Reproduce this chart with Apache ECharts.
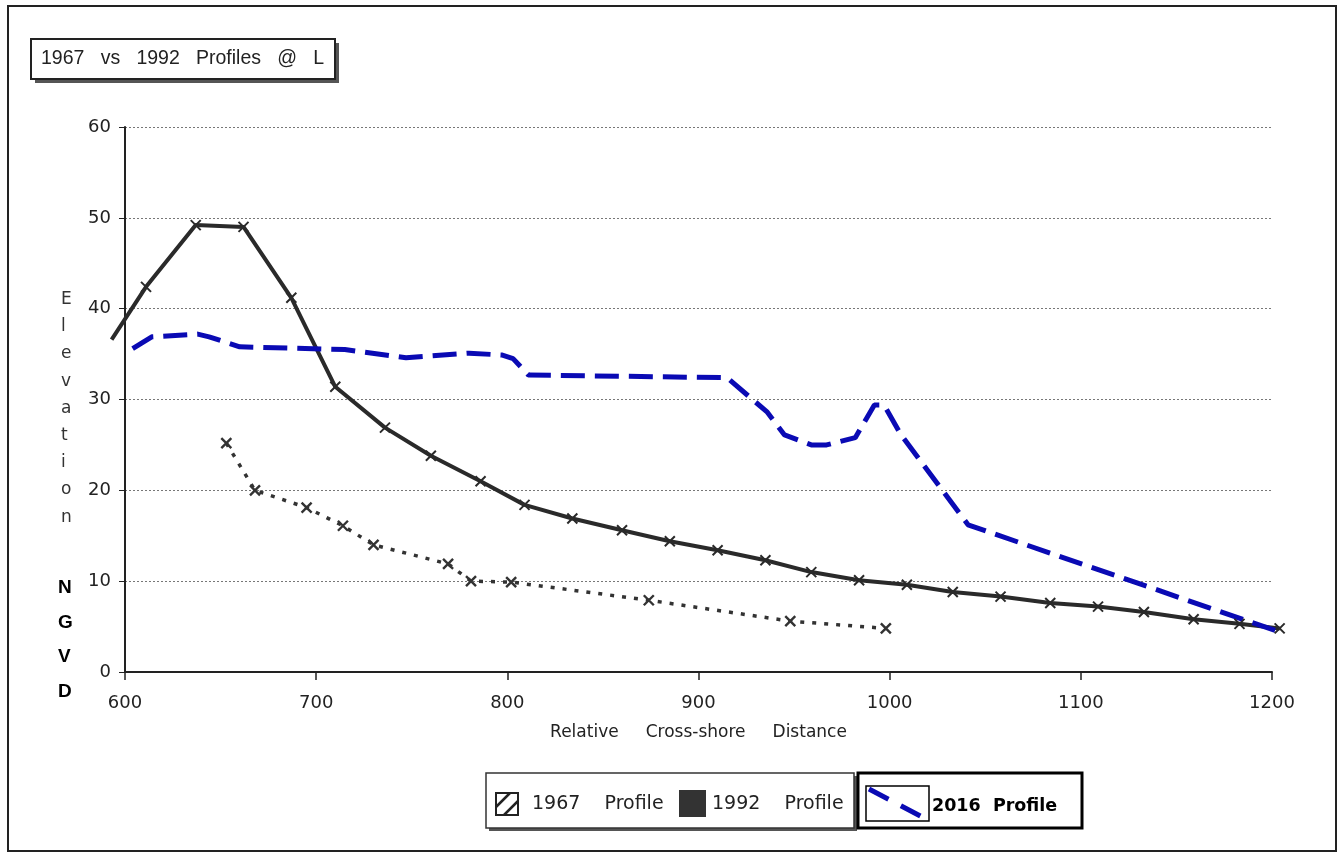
<!DOCTYPE html>
<html>
<head>
<meta charset="utf-8">
<script src="https://cdn.jsdelivr.net/npm/echarts@6/dist/echarts.min.js"></script>
<style>
  html, body { margin: 0; padding: 0; background: #fff; }
  #chart { width: 1340px; height: 854px; }
</style>
</head>
<body>
<div id="chart"></div>
<script>
// profile points: [distance, elevation]
const profile1967 = [
  [653, 25.2], [668, 20.0], [695, 18.1], [714, 16.1], [730, 14.0],
  [769, 11.9], [781, 10.0], [802, 9.9], [874, 7.9], [948, 5.6], [998, 4.8]
];
const profile1992 = [
  [593, 36.6], [611, 42.4], [637, 49.2], [662, 49.0], [687, 41.2],
  [710, 31.4], [736, 26.9], [760, 23.8], [786, 21.0], [809, 18.4],
  [834, 16.9], [860, 15.6], [885, 14.4], [910, 13.4], [935, 12.3],
  [959, 11.0], [984, 10.1], [1009, 9.6], [1033, 8.8], [1058, 8.3],
  [1084, 7.6], [1109, 7.2], [1133, 6.6], [1159, 5.8], [1183, 5.3], [1204, 4.8]
];
const profile2016 = [
  [604, 35.6], [614, 36.9], [638, 37.2], [644, 36.9], [660, 35.8],
  [715, 35.5], [747, 34.6], [780, 35.1], [797, 34.9], [803, 34.5],
  [811, 32.7], [915, 32.4], [936, 28.6], [945, 26.1], [959, 25.0],
  [967, 25.0], [982, 25.8], [992, 29.4], [997, 29.4], [1006, 26.1],
  [1041, 16.2], [1204, 4.4]
];
const yLetters = ['E', 'l', 'e', 'v', 'a', 't', 'i', 'o', 'n'];
const yUnits = ['N', 'G', 'V', 'D'];

const chart = echarts.init(document.getElementById('chart'));
const crossMark = 'path://M0,0L10,10M10,0L0,10';
const FONT = 'DejaVu Sans, Liberation Sans, Arial';
const axisFont = { fontFamily: FONT, fontSize: 18, color: '#222' };

// visible axes: 600..1200 over x 125..1272
// the lines sit in a second, hidden grid with the same scale but a wider range,
// so the 1992 line can run past the y axis like in the scan
const PX = (1340 - 125 - 68) / 600;
const X2MIN = 580, X2MAX = 1210;

const option = {
  backgroundColor: '#fff',
  animation: false,
  grid: [
    { left: 125, right: 68, top: 127, bottom: 182 },
    { left: 125 - (600 - X2MIN) * PX, right: 68 - (X2MAX - 1200) * PX, top: 127, bottom: 182 }
  ],
  xAxis: [
    {
      type: 'value', gridIndex: 0, min: 600, max: 1200, interval: 100,
      name: 'Relative     Cross-shore     Distance',
      nameLocation: 'middle', nameGap: 52,
      nameTextStyle: { fontFamily: FONT, fontSize: 17, color: '#222' },
      axisLine: { lineStyle: { color: '#222', width: 2 } },
      axisTick: { show: true, length: 8, lineStyle: { color: '#222', width: 1.5 } },
      axisLabel: Object.assign({ margin: 22, formatter: (v) => String(v) }, axisFont),
      splitLine: { show: false }
    },
    { type: 'value', gridIndex: 1, min: X2MIN, max: X2MAX, show: false }
  ],
  yAxis: [
    {
      type: 'value', gridIndex: 0, min: 0, max: 60, interval: 10,
      axisLine: { show: true, lineStyle: { color: '#222', width: 2 } },
      axisTick: { show: true, length: 6, lineStyle: { color: '#222' } },
      axisLabel: Object.assign({ margin: 14 }, axisFont),
      splitLine: { lineStyle: { color: '#777', type: [2, 2], width: 1 } }
    },
    { type: 'value', gridIndex: 1, min: 0, max: 60, show: false }
  ],
  series: [
    {
      name: '1967 Profile', type: 'line', data: profile1967,
      xAxisIndex: 1, yAxisIndex: 1,
      symbol: crossMark, symbolSize: 10,
      lineStyle: { color: '#333', width: 3.5, type: [4, 8] },
      itemStyle: { color: '#333', borderColor: '#333', borderWidth: 2.4 }
    },
    {
      name: '1992 Profile', type: 'line',
      data: profile1992.map((p, i) => (i === 0 ? { value: p, symbol: 'none' } : p)),
      xAxisIndex: 1, yAxisIndex: 1,
      symbol: crossMark, symbolSize: 10,
      lineStyle: { color: '#2a2a2a', width: 4 },
      itemStyle: { color: '#2a2a2a', borderColor: '#2a2a2a', borderWidth: 2 }
    },
    {
      name: '2016 Profile', type: 'line', data: profile2016,
      xAxisIndex: 1, yAxisIndex: 1,
      symbol: 'none',
      lineStyle: { color: '#0a0ab4', width: 5, type: [24, 10] }
    }
  ],
  graphic: [
    // outer frame
    { type: 'rect', shape: { x: 8, y: 6, width: 1328, height: 845 },
      style: { fill: 'none', stroke: '#222', lineWidth: 2 } },
    // title box
    { type: 'rect', shape: { x: 35, y: 43, width: 304, height: 40 },
      style: { fill: '#555' } },
    { type: 'rect', shape: { x: 31, y: 39, width: 304, height: 40 },
      style: { fill: '#fff', stroke: '#222', lineWidth: 2 } },
    { type: 'text', left: 41, top: 49,
      style: { text: '1967   vs   1992   Profiles   @   L', fontFamily: 'Liberation Sans, Arial',
        fontSize: 19.5, fill: '#222' } },
    // y axis name
    { type: 'text', left: 61, top: 286,
      style: { text: yLetters.join('\n'), fontFamily: FONT, fontSize: 17,
        lineHeight: 27.2, fill: '#333', align: 'center', width: 14 } },
    { type: 'text', left: 58, top: 571,
      style: { text: yUnits.join('\n'), fontFamily: 'Liberation Sans, Arial', fontSize: 19,
        fontWeight: 'bold', lineHeight: 34.5, fill: '#000', align: 'center', width: 16 } },
    // legend box for 1967 / 1992
    { type: 'rect', shape: { x: 489, y: 776, width: 368, height: 55 },
      style: { fill: '#555' } },
    { type: 'rect', shape: { x: 486, y: 773, width: 368, height: 55 },
      style: { fill: '#fff', stroke: '#333', lineWidth: 1.5 } },
    { type: 'rect', shape: { x: 496, y: 793, width: 22, height: 22 },
      style: { fill: '#fff', stroke: '#222', lineWidth: 2 } },
    { type: 'polyline', shape: { points: [[496, 807], [510, 793]] },
      style: { stroke: '#222', lineWidth: 2.5 } },
    { type: 'polyline', shape: { points: [[504, 815], [518, 801]] },
      style: { stroke: '#222', lineWidth: 2.5 } },
    { type: 'text', left: 532, top: 795,
      style: { text: '1967    Profile', fontFamily: FONT, fontSize: 19, fill: '#222' } },
    { type: 'rect', shape: { x: 679, y: 790, width: 27, height: 27 },
      style: { fill: '#333' } },
    { type: 'text', left: 712, top: 795,
      style: { text: '1992    Profile', fontFamily: FONT, fontSize: 19, fill: '#222' } },
    // legend box for 2016
    { type: 'rect', shape: { x: 858, y: 773, width: 224, height: 55 },
      style: { fill: '#fff', stroke: '#000', lineWidth: 3 } },
    { type: 'rect', shape: { x: 866, y: 786, width: 63, height: 35 },
      style: { fill: '#fff', stroke: '#000', lineWidth: 1.5 } },
    { type: 'polyline', shape: { points: [[869, 789], [926, 819]] },
      style: { stroke: '#0a0ab4', lineWidth: 5, lineDash: [22, 14] } },
    { type: 'text', left: 932, top: 797,
      style: { text: '2016  Profile', fontFamily: FONT, fontSize: 17.5,
        fontWeight: 'bold', fill: '#000' } }
  ]
};

chart.setOption(option);
</script>
</body>
</html>
